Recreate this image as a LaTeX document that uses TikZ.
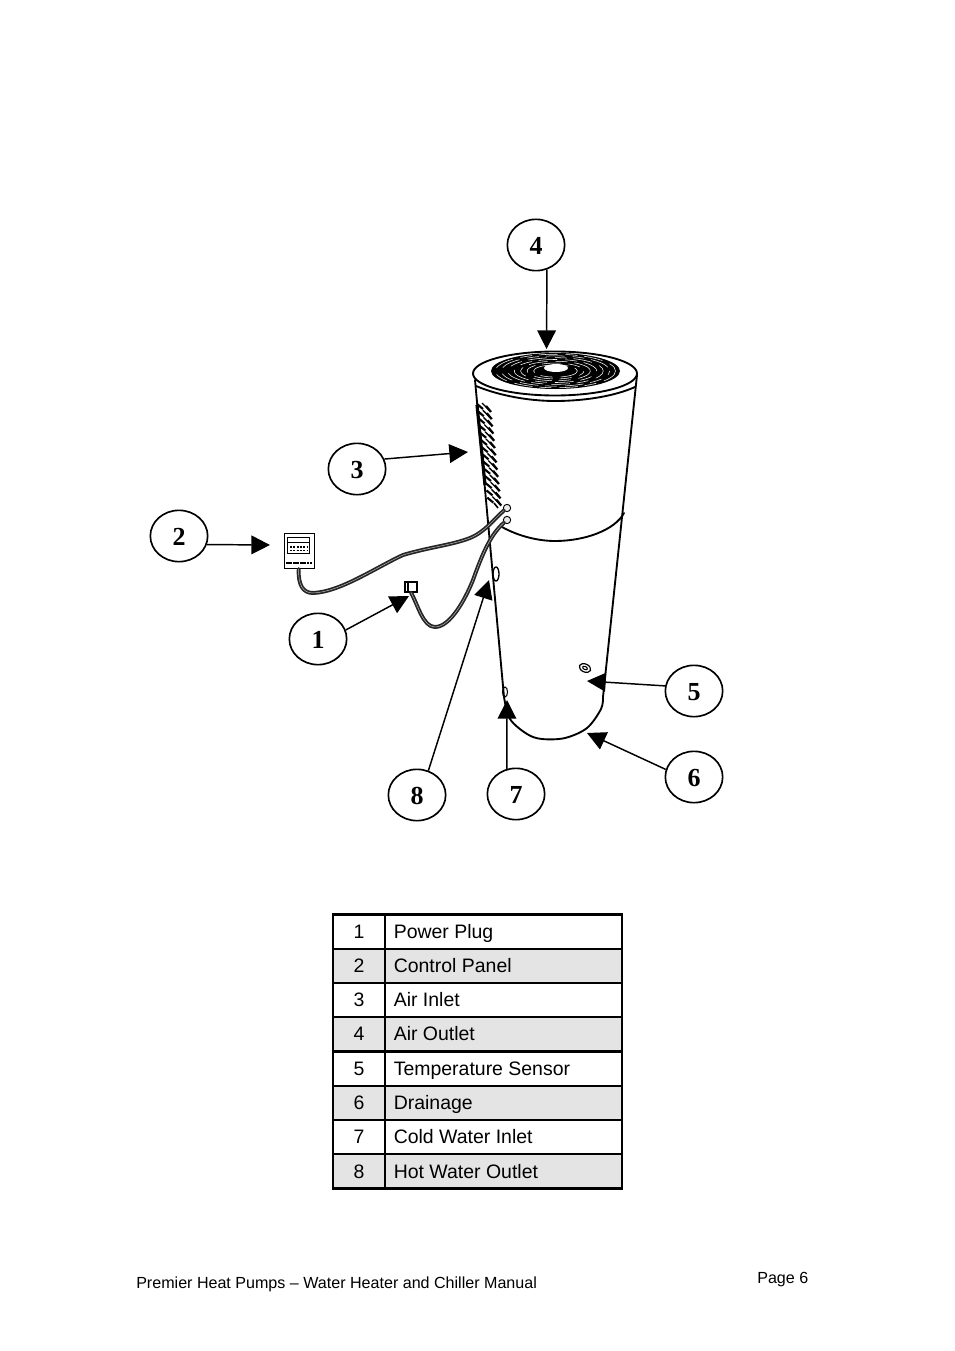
\documentclass[tikz,border=0pt]{standalone}
\usepackage{fontspec}
\setmainfont{Liberation Sans}
\newfontfamily\numfont{Liberation Serif}
\usetikzlibrary{shapes.geometric,arrows.meta}
\definecolor{rowgrey}{HTML}{E4E4E4}
\tikzset{
  callout/.style={ellipse,draw,line width=1.25pt,minimum width=43pt,minimum height=38.5pt,inner sep=0pt,text depth=0pt,font=\numfont\bfseries\fontsize{19.5}{20}\selectfont},
  pointer/.style={line width=1.1pt,-{Triangle[length=14pt,width=14pt]}},
  outline/.style={line width=1.4pt,line join=round,line cap=round},
  cable/.style={line width=1.3pt,draw=black!85,double=white!75!black,double distance=.35pt,line cap=round},
  cell/.style={font=\fontsize{14.6}{16}\selectfont,inner sep=0pt,anchor=base},
  label/.style={cell,anchor=base west},
  foot/.style={font=\fontsize{12.06}{14}\selectfont,inner sep=0pt,anchor=base west},
  rule/.style={line width=1.4pt},
  thickrule/.style={line width=2.2pt}
}
\begin{document}
\begin{tikzpicture}[x=0.75pt,y=-0.75pt]
\useasboundingbox (0,0) rectangle (954,1351);
% tank body
\draw[outline] (475,380) -- (504,697);
\draw[outline] (637,375) -- (603,697);
\draw[outline] plot[smooth,tension=.55] coordinates {(603,697) (601,709) (587,728) (565,738) (542,739) (527,734) (510,719) (504,697)};
% lid
\draw[outline,fill=white] (555,373.5) ellipse [x radius=82,y radius=22];
\draw[outline] (476,386) .. controls (500,396) and (530,401) .. (555,401) .. controls (585,401) and (615,396) .. (635,387);
% band
\draw[outline] (502,527) .. controls (520,537) and (540,541) .. (555,541) .. controls (585,541) and (615,530) .. (624,513);
% fan
\fill[black] (555.5,371) ellipse [x radius=64.5,y radius=18];
\foreach \r/\o in {.34/0,.44/9,.54/3,.64/14,.74/6,.84/11,.93/2}{
  \draw[white,line width=.4pt,dash pattern=on 14pt off 6pt on 9pt off 5pt,dash phase=\o pt] (555.5,371) ellipse [x radius=64.5*\r,y radius=18*\r];
}
\fill[white] (556,368) ellipse [x radius=12,y radius=4];
% air inlet fins
\foreach \i in {0,...,13}{
  \pgfmathsetmacro{\fy}{404+7.2*\i}
  \pgfmathsetmacro{\fx}{477+0.11*7.2*\i}
  \draw[line width=1.6pt] (\fx,\fy) -- ++(6,5);
  \draw[line width=1pt] (\fx+5,\fy-1) -- ++(7,7);
  \draw[line width=1.7pt] (\fx+9,\fy+2) -- ++(5,6);
}
\draw[line width=2.4pt] (477,405) -- (485,485);
\draw[line width=1.2pt] (494,503) -- (498,508);
% tank fittings
\draw[line width=1pt] (496,574) ellipse [x radius=3,y radius=7];
\draw[line width=.9pt,rotate around={-25:(585,668)}] (585,668) ellipse [x radius=6,y radius=4];
\draw[line width=.8pt,rotate around={-25:(585,668)}] (585,668) ellipse [x radius=2.5,y radius=1.5];
\draw[line width=.8pt] (505,692) ellipse [x radius=2.5,y radius=5];
% control panel
\node[draw,line width=1.1pt,inner sep=0pt,minimum width=22.5pt,minimum height=26pt,anchor=north west,fill=white] (panel) at (284,533) {};
\draw[line width=.7pt] (287,537) rectangle (309,553);
\draw[line width=.7pt] (287,542) -- (309,542);
\draw[line width=1.2pt,dash pattern=on 1.5pt off 1pt] (290,547) -- (307,547);
\draw[line width=1.2pt,dash pattern=on 1.5pt off 1pt] (290,550.5) -- (307,550.5);
\draw[line width=2pt,dash pattern=on 2pt off .6pt] (286,563) -- (312,563);
% plug
\node[draw,line width=1pt,inner sep=0pt,minimum width=9pt,minimum height=7.5pt,fill=white] (plug) at (411,587) {};
\draw[line width=1pt] (408,583) -- (408,592);
% sensor ends
\node[circle,draw,line width=.7pt,inner sep=0pt,minimum size=5.5pt,fill=white!92!black] (endA) at (507,508) {};
\node[circle,draw,line width=.7pt,inner sep=0pt,minimum size=5.5pt,fill=white!92!black] (endB) at (507,520) {};
% cables
\draw[cable] (panel.south) ++(-1,0) .. controls (298,585) and (303,593) .. (313,593) .. controls (340,592) and (375,568) .. (403,555) .. controls (430,547) and (452,545) .. (470,538) .. controls (485,532) and (495,518) .. (endA);
\draw[cable] (plug.south) .. controls (418,605) and (423,627) .. (435,627) .. controls (450,627) and (465,600) .. (473,580) .. controls (482,555) and (490,535) .. (endB);
% callouts
\node[callout] (c4) at (536,245) {\raisebox{-1pt}{4}};
\node[callout] (c3) at (357,469) {\raisebox{-1pt}{3}};
\node[callout] (c2) at (179,536) {\raisebox{-1pt}{2}};
\node[callout] (c1) at (318,639) {\raisebox{-1pt}{1}};
\node[callout] (c5) at (694,691) {\raisebox{-1pt}{5}};
\node[callout] (c6) at (694,777) {\raisebox{-1pt}{6}};
\node[callout] (c7) at (516,794) {\raisebox{-1pt}{7}};
\node[callout] (c8) at (417,795) {\raisebox{-1pt}{8}};
\coordinate (t4) at (546.5,349);
\coordinate (t3) at (468,452);
\coordinate (t2) at (270,545);
\coordinate (t1) at (409,596);
\coordinate (t5) at (587,681);
\coordinate (t6) at (587,733);
\coordinate (t7) at (507,700);
\coordinate (t8) at (489,580);
\draw[pointer] (c4.-66) -- (t4);
\draw[pointer] (c3.20) -- (t3);
\draw[pointer] (c2.-17) -- (t2);
\draw[pointer] (c1.18) -- (t1);
\draw[pointer] (c5.170) -- (t5);
\draw[pointer] (c6.165) -- (t6);
\draw[pointer] (c7.110) -- (t7);
\draw[pointer] (c8.65) -- (t8);
% table
\fill[rowgrey] (334,949) rectangle (621,983);
\fill[rowgrey] (334,1017) rectangle (621,1051);
\fill[rowgrey] (334,1086) rectangle (621,1120);
\fill[rowgrey] (334,1154) rectangle (621,1189);
\draw[rule] (333,949) -- (622,949);
\draw[rule] (333,983) -- (622,983);
\draw[thickrule] (333,1017) -- (622,1017);
\draw[thickrule] (333,1051.5) -- (622,1051.5);
\draw[rule] (333,1086) -- (622,1086);
\draw[rule] (333,1120) -- (622,1120);
\draw[rule] (333,1154) -- (622,1154);
\draw[rule] (385,914) -- (385,1189);
\draw[line width=2.2pt] (333,914.5) rectangle (622,1188.5);
\foreach \n/\t [count=\k from 0] in {1/Power Plug,2/Control Panel,3/Air Inlet,4/Air Outlet,5/Temperature Sensor,6/Drainage,7/Cold Water Inlet,8/Hot Water Outlet}{
  \pgfmathsetmacro{\by}{938+34.3*\k}
  \node[cell] (num\n) at (359,\by) {\n};
  \node[label] (lab\n) at (393.5,\by) {\t};
}
% footer
\node[foot] (manual) at (136,1288) {Premier Heat Pumps – Water Heater and Chiller Manual};
\node[foot] (page) at (757,1283) {Page 6};
\end{tikzpicture}
\end{document}
